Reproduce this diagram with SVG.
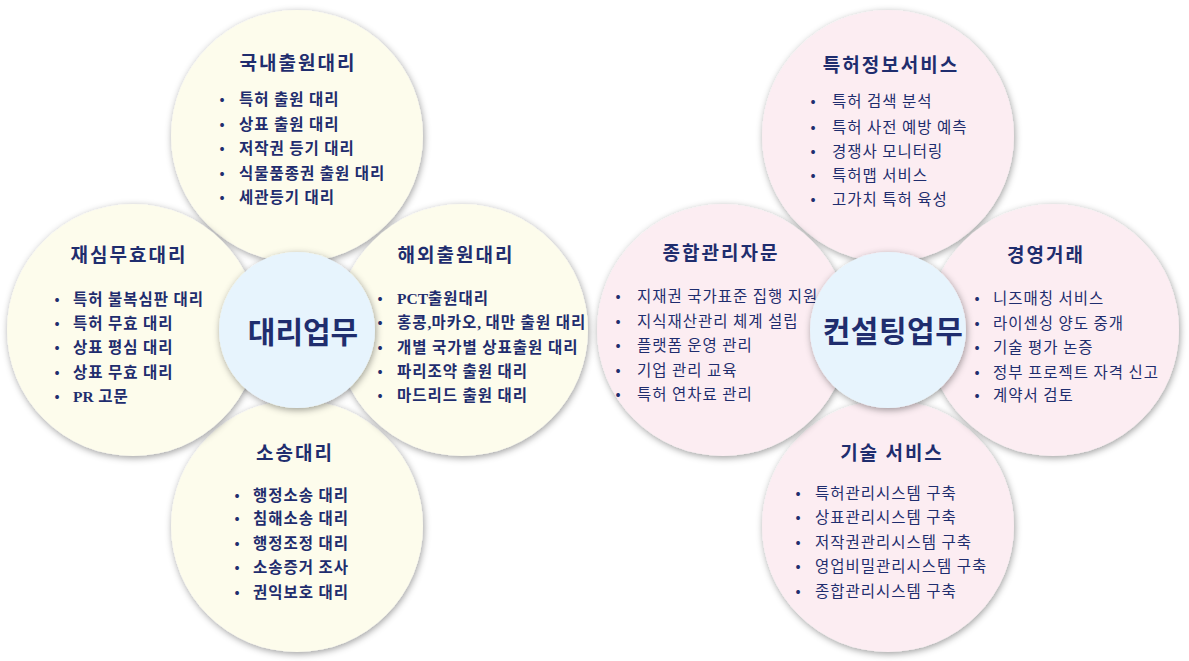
<svg xmlns="http://www.w3.org/2000/svg" width="1189" height="661" viewBox="0 0 1189 661">
<defs>
<filter id="sh" x="-20%" y="-20%" width="140%" height="140%">
<feGaussianBlur in="SourceAlpha" stdDeviation="3.5"/>
<feOffset dx="1" dy="2" result="b"/>
<feFlood flood-color="#000" flood-opacity="0.38"/>
<feComposite in2="b" operator="in"/>
<feMerge><feMergeNode/><feMergeNode in="SourceGraphic"/></feMerge>
</filter>
<style>
text{font-family:"Noto Sans CJK KR","Noto Sans",sans-serif;fill:#1f2d6e}
.cream{fill:#fdfcec;filter:url(#sh)}
.pink{fill:#fcedf2;filter:url(#sh)}
.core{fill:#e7f4fd;filter:url(#sh)}
.t{font-size:19px;font-weight:bold;text-anchor:middle;letter-spacing:2px}
.c{font-size:30px;font-weight:bold;text-anchor:middle}
.lb{font-size:15.5px;font-weight:bold;letter-spacing:1px}
.li{font-size:15.5px;letter-spacing:1px}
.bu{font-size:15px;text-anchor:middle}
.ser{font-family:"Liberation Serif",serif;font-weight:bold;letter-spacing:0}
</style>
</defs>
<rect width="1189" height="661" fill="#fff"/>
<g id="connectors"/>

<!-- Left cluster: 대리업무 -->
<g id="domestic">
<circle class="cream" cx="297" cy="136" r="126"/>
<text class="t" x="298" y="70">국내출원대리</text>
<text class="bu" x="222" y="104">•</text><text class="lb" x="239" y="105">특허 출원 대리</text>
<text class="bu" x="222" y="129">•</text><text class="lb" x="239" y="130">상표 출원 대리</text>
<text class="bu" x="222" y="153">•</text><text class="lb" x="239" y="154">저작권 등기 대리</text>
<text class="bu" x="222" y="178">•</text><text class="lb" x="239" y="179">식물품종권 출원 대리</text>
<text class="bu" x="222" y="202">•</text><text class="lb" x="239" y="203">세관등기 대리</text>
</g>
<g id="litigation">
<circle class="cream" cx="297" cy="526" r="126"/>
<text class="t" x="295" y="460">소송대리</text>
<text class="bu" x="237" y="500">•</text><text class="lb" x="253" y="501">행정소송 대리</text>
<text class="bu" x="237" y="523">•</text><text class="lb" x="253" y="524">침해소송 대리</text>
<text class="bu" x="237" y="548">•</text><text class="lb" x="253" y="549">행정조정 대리</text>
<text class="bu" x="237" y="572">•</text><text class="lb" x="253" y="573">소송증거 조사</text>
<text class="bu" x="237" y="597">•</text><text class="lb" x="253" y="598">권익보호 대리</text>
</g>
<g id="trial">
<circle class="cream" cx="133" cy="330" r="126"/>
<text class="t" x="129" y="262">재심무효대리</text>
<text class="bu" x="57" y="304">•</text><text class="lb" x="73" y="305">특허 불복심판 대리</text>
<text class="bu" x="57" y="328">•</text><text class="lb" x="73" y="329">특허 무효 대리</text>
<text class="bu" x="57" y="352">•</text><text class="lb" x="73" y="353">상표 평심 대리</text>
<text class="bu" x="57" y="377">•</text><text class="lb" x="73" y="378">상표 무효 대리</text>
<text class="bu" x="57" y="401">•</text><text class="lb" x="73" y="402"><tspan class="ser">PR</tspan> 고문</text>
</g>
<g id="overseas">
<circle class="cream" cx="462" cy="330" r="126"/>
<text class="t" x="456" y="262">해외출원대리</text>
<text class="bu" x="380" y="303">•</text><text class="lb" x="397" y="304"><tspan class="ser">PCT</tspan>출원대리</text>
<text class="bu" x="380" y="327">•</text><text class="lb" x="397" y="328">홍콩<tspan class="ser">,</tspan>마카오<tspan class="ser">,</tspan> 대만 출원 대리</text>
<text class="bu" x="380" y="352">•</text><text class="lb" x="397" y="353">개별 국가별 상표출원 대리</text>
<text class="bu" x="380" y="376">•</text><text class="lb" x="397" y="377">파리조약 출원 대리</text>
<text class="bu" x="380" y="400">•</text><text class="lb" x="397" y="401">마드리드 출원 대리</text>
</g>
<g id="agency-core">
<circle class="core" cx="297" cy="330" r="78"/>
<text class="c" x="303" y="343">대리업무</text>
</g>

<!-- Right cluster: 컨설팅업무 -->
<g id="patent-info">
<circle class="pink" cx="888" cy="136" r="126"/>
<text class="t" x="891" y="72">특허정보서비스</text>
<text class="bu" x="813" y="106">•</text><text class="li" x="832" y="107">특허 검색 분석</text>
<text class="bu" x="813" y="132">•</text><text class="li" x="832" y="133">특허 사전 예방 예측</text>
<text class="bu" x="813" y="156">•</text><text class="li" x="832" y="157">경쟁사 모니터링</text>
<text class="bu" x="813" y="180">•</text><text class="li" x="832" y="181">특허맵 서비스</text>
<text class="bu" x="813" y="204">•</text><text class="li" x="832" y="205">고가치 특허 육성</text>
</g>
<g id="tech-service">
<circle class="pink" cx="888" cy="526" r="126"/>
<text class="t" x="892" y="460">기술 서비스</text>
<text class="bu" x="798" y="498">•</text><text class="li" x="815" y="499">특허관리시스템 구축</text>
<text class="bu" x="798" y="522">•</text><text class="li" x="815" y="523">상표관리시스템 구축</text>
<text class="bu" x="798" y="547">•</text><text class="li" x="815" y="548">저작권관리시스템 구축</text>
<text class="bu" x="798" y="571">•</text><text class="li" x="815" y="572">영업비밀관리시스템 구축</text>
<text class="bu" x="798" y="596">•</text><text class="li" x="815" y="597">종합관리시스템 구축</text>
</g>
<g id="advisory">
<circle class="pink" cx="723" cy="330" r="126"/>
<text class="t" x="721" y="260">종합관리자문</text>
<text class="bu" x="618" y="301">•</text><text class="li" x="637" y="302">지재권 국가표준 집행 지원</text>
<text class="bu" x="618" y="326">•</text><text class="li" x="637" y="327">지식재산관리 체계 설립</text>
<text class="bu" x="618" y="350">•</text><text class="li" x="637" y="351">플랫폼 운영 관리</text>
<text class="bu" x="618" y="375">•</text><text class="li" x="637" y="376">기업 관리 교육</text>
<text class="bu" x="618" y="399">•</text><text class="li" x="637" y="400">특허 연차료 관리</text>
</g>
<g id="management">
<circle class="pink" cx="1053" cy="330" r="126"/>
<text class="t" x="1046" y="262">경영거래</text>
<text class="bu" x="977" y="303">•</text><text class="li" x="993" y="304">니즈매칭 서비스</text>
<text class="bu" x="977" y="328">•</text><text class="li" x="993" y="329">라이센싱 양도 중개</text>
<text class="bu" x="977" y="352">•</text><text class="li" x="993" y="353">기술 평가 논증</text>
<text class="bu" x="977" y="377">•</text><text class="li" x="993" y="378">정부 프로젝트 자격 신고</text>
<text class="bu" x="977" y="400">•</text><text class="li" x="993" y="401">계약서 검토</text>
</g>
<g id="consulting-core">
<circle class="core" cx="888" cy="330" r="78"/>
<text class="c" x="893" y="342" letter-spacing="0.5">컨설팅업무</text>
</g>
</svg>
